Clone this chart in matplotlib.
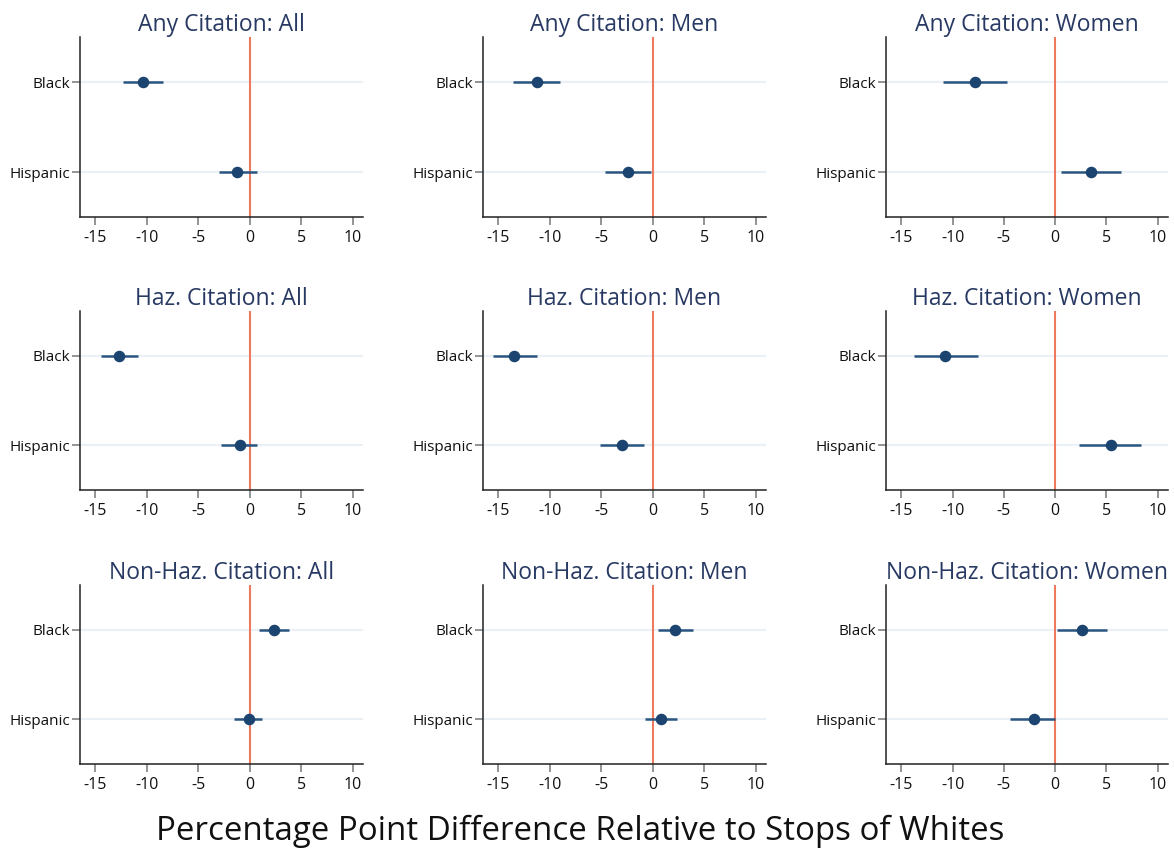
import matplotlib
matplotlib.use("Agg")
import matplotlib.pyplot as plt

groups = ["Black", "Hispanic"]
outcomes = ["Any Citation", "Haz. Citation", "Non-Haz. Citation"]
samples = ["All", "Men", "Women"]

# point estimates [outcome][sample] -> (Black, Hispanic)
est = [
    [(-10.4, -1.2), (-11.3, -2.4), (-7.8, 3.5)],
    [(-12.7, -1.0), (-13.5, -3.0), (-10.7, 5.4)],
    [(2.4, -0.1), (2.2, 0.8), (2.6, -2.1)],
]
ci_low = [
    [(-12.3, -3.0), (-13.6, -4.6), (-10.9, 0.6)],
    [(-14.5, -2.8), (-15.5, -5.1), (-13.8, 2.3)],
    [(0.9, -1.5), (0.5, -0.8), (0.2, -4.4)],
]
ci_high = [
    [(-8.4, 0.7), (-9.0, -0.2), (-4.7, 6.4)],
    [(-10.9, 0.7), (-11.3, -0.9), (-7.5, 8.4)],
    [(3.8, 1.2), (3.9, 2.4), (5.1, 0.0)],
]
xticks = [-15, -10, -5, 0, 5, 10]

plt.rcParams["font.family"] = ["Open Sans", "DejaVu Sans"]

W, H = 1174, 852
fig = plt.figure(figsize=(W / 100, H / 100), dpi=100)

col_px = [(80, 363), (483, 766), (886, 1168)]
row_px = [(37, 217), (311, 490), (585, 764)]

dot_col = "#1b4570"
bar_col = "#2a5580"
ref_col = "#ee7a5e"
grid_col = "#e9f1f6"
title_col = "#283a63"

for i, outcome in enumerate(outcomes):
    for j, sample in enumerate(samples):
        x0, x1 = col_px[j]
        y0, y1 = row_px[i]
        ax = fig.add_axes([x0 / W, 1 - y1 / H, (x1 - x0) / W, (y1 - y0) / H])
        ypos = [1, 2]
        for k in range(2):
            ax.axhline(ypos[k], color=grid_col, lw=1.5, zorder=0)
        ax.axvline(0, color=ref_col, lw=1.5, zorder=1)
        for k in range(2):
            ax.plot([ci_low[i][j][k], ci_high[i][j][k]], [ypos[k], ypos[k]],
                    color=bar_col, lw=1.8, zorder=2, solid_capstyle="butt")
            ax.plot(est[i][j][k], ypos[k], "o", color=dot_col, ms=7.3, zorder=3)
        ax.set_xlim(-16.5, 11)
        ax.set_ylim(2.5, 0.5)
        ax.set_yticks(ypos)
        ax.set_yticklabels(groups)
        ax.set_xticks(xticks)
        ax.set_xticklabels([str(t) for t in xticks])
        for s in ["top", "right"]:
            ax.spines[s].set_visible(False)
        for s in ["left", "bottom"]:
            ax.spines[s].set_color("#222222")
            ax.spines[s].set_linewidth(1.1)
        ax.tick_params(axis="x", labelsize=11.5, colors="#777777",
                       labelcolor="#111111", length=6, width=1.1)
        ax.tick_params(axis="y", labelsize=11, colors="#777777",
                       labelcolor="#111111", length=6, width=1.1, pad=1)
        ax.set_title(f"{outcome}: {sample}", fontsize=16.5, color=title_col, pad=3)

fig.text(580 / W, 1 - 831 / H,
         "Percentage Point Difference Relative to Stops of Whites",
         ha="center", va="center", fontsize=23.8, color="#111111")

fig.savefig("out.png", dpi=100, facecolor="white")
